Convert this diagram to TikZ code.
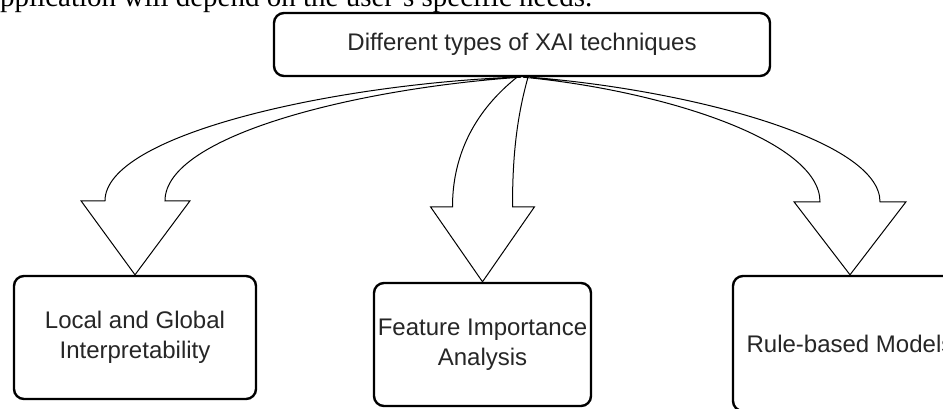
\documentclass[tikz,border=0pt]{standalone}
\usepackage{fontspec}
\setmainfont{Liberation Serif}
\newfontfamily\labelfont{Liberation Sans}
\usetikzlibrary{calc}
\pgfdeclarelayer{bg}
\pgfsetlayers{bg,main}

\begin{document}
\begin{tikzpicture}[x=1pt, y=-1pt,
    techbox/.style={draw, line width=2.4pt, rounded corners=10pt, fill=white, align=center,
      inner sep=2pt, text=black!85, font=\labelfont\fontsize{24}{29.5}\selectfont},
    fatarrow/.style={draw, line width=1pt, line join=miter}]
  \clip (0,0) rectangle (943,409);
  \node[anchor=base west, inner sep=0pt, font=\fontsize{29}{34}\selectfont] (intro) at (0,7) {pplication will depend on the user's specific needs.};
  \node[techbox, minimum width=496, minimum height=63] (xai) at (522,44.5) {Different types of XAI techniques};
  \node[techbox, minimum width=242, minimum height=123] (loc) at (135,337.5) {Local and Global\\Interpretability};
  \node[techbox, minimum width=217, minimum height=123] (feat) at (482.5,344.5) {Feature Importance\\Analysis};
  \node[techbox, minimum width=234, minimum height=135] (rule) at (850,343.5) {Rule-based Models};
  \begin{pgfonlayer}{bg}
    % left arrow
    \draw[fatarrow] ($(xai.south)+(-8,0)$) .. controls (330,85) and (105,135) .. ($(loc.north)+(-30,-74)$)
      -- ++(-24,0) -- (loc.north) -- ++(55,-74) -- ++(-25,0)
      .. controls (165,135) and (360,88) .. ($(xai.south)+(-1,0)$);
    % middle arrow
    \draw[fatarrow] ($(xai.south)+(-5,0)$) .. controls (495,95) and (452.5,135) .. ($(feat.north)+(-30,-75)$)
      -- ++(-22,0) -- (feat.north) -- ++(52,-75) -- ++(-22,0)
      .. controls (512.5,160) and (516,120) .. ($(xai.south)+(6,0)$);
    % right arrow
    \draw[fatarrow] ($(xai.south)+(1,0)$) .. controls (660,90) and (820,140) .. ($(rule.north)+(-30,-73)$)
      -- ++(-26,0) -- (rule.north) -- ++(56,-73) -- ++(-26,0)
      .. controls (880,140) and (690,90) .. ($(xai.south)+(8,0)$);
  \end{pgfonlayer}
\end{tikzpicture}
\end{document}
